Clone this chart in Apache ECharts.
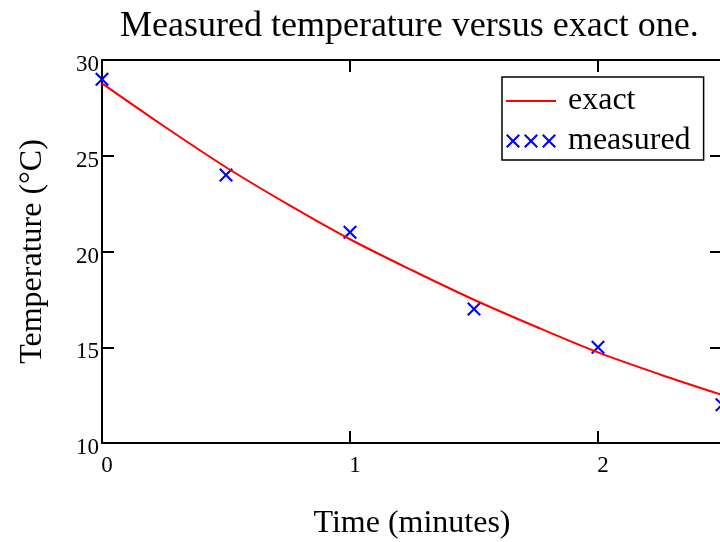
<!DOCTYPE html>
<html>
<head>
<meta charset="utf-8">
<script src="https://cdn.jsdelivr.net/npm/echarts@6/dist/echarts.min.js"></script>
<style>
html,body{margin:0;padding:0;background:#fff;}
#chart{width:720px;height:542px;}
</style>
</head>
<body>
<div id="chart"></div>
<script>
// Data
var exactT = [0, 0.25, 0.5, 0.75, 1, 1.25, 1.5, 1.75, 2, 2.25, 2.5];
var exactV = [28.78, 26.54, 24.40, 22.46, 20.64, 19.02, 17.48, 16.07, 14.73, 13.58, 12.51];
var measT = [0, 0.5, 1, 1.5, 2, 2.5];
var measV = [29, 24, 21, 17, 15, 12];

var titleText = 'Measured temperature versus exact one.';
var xName = 'Time (minutes)';
var yName = 'Temperature (°C)';
var exactName = 'exact';
var measName = 'measured';

var FONT = 'Liberation Serif, Times New Roman, serif';
function xAt(dx){
  return 'M'+(0+dx)+',1.5L'+(1.5+dx)+',0L'+(7+dx)+',5.5L'+(12.5+dx)+',0L'+(14+dx)+',1.5L'+(8.5+dx)+',7L'+(14+dx)+',12.5L'+(12.5+dx)+',14L'+(7+dx)+',8.5L'+(1.5+dx)+',14L'+(0+dx)+',12.5L'+(5.5+dx)+',7Z';
}
var singleX = 'path://' + xAt(0);
var tripleX = 'path://' + xAt(0) + xAt(18) + xAt(36);
var lineIcon = 'path://M0,0H50V2H0Z';

function zip(a,b){ return a.map(function(v,i){ return [v,b[i]]; }); }

var chart = echarts.init(document.getElementById('chart'), null, {renderer:'canvas'});
var axisLineStyle = {color:'#000', width:2};
chart.setOption({
  animation:false,
  backgroundColor:'#fff',
  title:{
    text:titleText, left:120, top:9, padding:0,
    textStyle:{fontFamily:FONT, fontSize:36, fontWeight:'normal', color:'#000'}
  },
  legend:{
    orient:'vertical', left:502, top:77,
    padding:[8,13,3,4], itemGap:8, itemWidth:50, itemHeight:14,
    symbolKeepAspect:true,
    backgroundColor:'#fff', borderColor:'#000', borderWidth:1.5, borderRadius:0,
    textStyle:{fontFamily:FONT, fontSize:32, color:'#000', lineHeight:32, padding:[0,0,0,7]},
    data:[{name:exactName, icon:lineIcon},{name:measName, icon:tripleX}]
  },
  grid:{left:102, top:60, right:-2, bottom:99, containLabel:false, outerBoundsMode:'none'},
  xAxis:[{
    type:'value', min:0, max:2.5, interval:1, position:'bottom',
    name:xName, nameLocation:'middle', nameGap:65,
    nameTextStyle:{fontFamily:FONT, fontSize:32, color:'#000'},
    axisLine:{show:true, onZero:false, lineStyle:axisLineStyle},
    axisTick:{show:true, inside:true, length:12, lineStyle:axisLineStyle},
    axisLabel:{fontFamily:FONT, fontSize:23, color:'#000', margin:11, showMaxLabel:false, padding:[0,0,0,10]},
    splitLine:{show:false}
  },{
    type:'value', min:0, max:2.5, interval:1, position:'top',
    axisLine:{show:true, onZero:false, lineStyle:axisLineStyle},
    axisTick:{show:true, inside:true, length:12, lineStyle:axisLineStyle},
    axisLabel:{show:false}, splitLine:{show:false}
  }],
  yAxis:[{
    type:'value', min:10, max:30, interval:5, position:'left',
    name:yName, nameLocation:'middle', nameGap:53, nameRotate:90,
    nameTextStyle:{fontFamily:FONT, fontSize:32, color:'#000'},
    axisLine:{show:true, onZero:false, lineStyle:axisLineStyle},
    axisTick:{show:true, inside:true, length:12, lineStyle:axisLineStyle},
    axisLabel:{fontFamily:FONT, fontSize:23, color:'#000', margin:3, verticalAlign:'top', lineHeight:10},
    splitLine:{show:false}
  },{
    type:'value', min:10, max:30, interval:5, position:'right',
    axisLine:{show:true, onZero:false, lineStyle:axisLineStyle},
    axisTick:{show:true, inside:true, length:12, lineStyle:axisLineStyle},
    axisLabel:{show:false}, splitLine:{show:false}
  }],
  series:[{
    name:exactName, type:'line', data:zip(exactT, exactV),
    smooth:0.3, symbol:'none',
    lineStyle:{color:'#ff0000', width:2}, itemStyle:{color:'#ff0000'},
    clip:false
  },{
    name:measName, type:'scatter', data:zip(measT, measV),
    symbol:singleX, symbolSize:14,
    itemStyle:{color:'#0000ff', opacity:1}, clip:false
  }]
});
</script>
</body>
</html>
